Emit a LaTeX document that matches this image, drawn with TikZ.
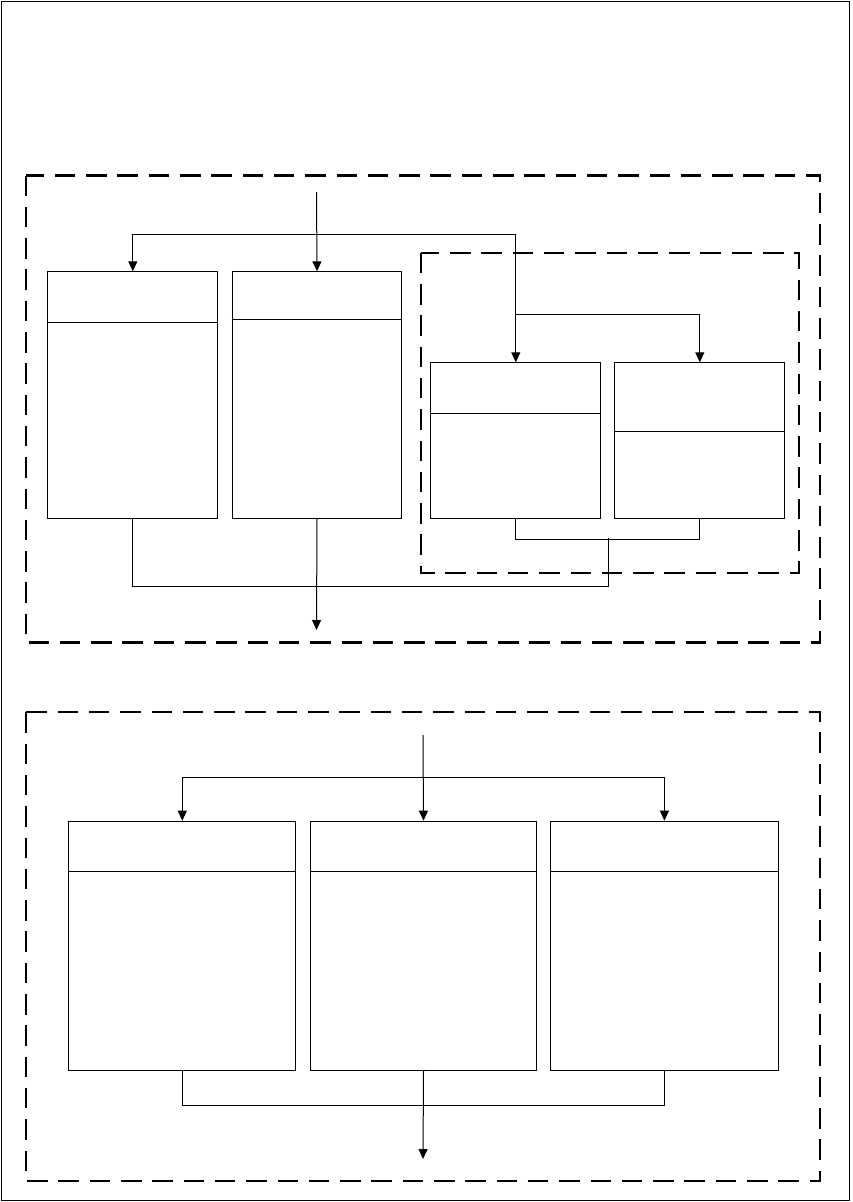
\documentclass[tikz,border=0pt]{standalone}
\usetikzlibrary{arrows.meta}
\begin{document}
\begin{tikzpicture}[x=1pt,y=-1pt,
  box/.style={draw,line width=1pt,rectangle,inner sep=0pt,anchor=north west},
  conn/.style={line width=1pt},
  arr/.style={line width=1pt,-{Triangle[width=9pt,length=10pt]}},
  grp/.style={draw,line width=2.2pt,dash pattern=on 20.5pt off 10.8pt},
  frame/.style={draw,line width=1pt}]
\useasboundingbox (0,0) rectangle (852,1202);
\draw[frame] (1,1) rectangle (849,1200.5);
% group frames
\draw[grp] (26,175.5) rectangle (820,642.5);
\draw[grp] (421,252.7) rectangle (798.7,572.7);
\draw[grp] (26,712.3) rectangle (820,1180.7);
% top boxes
\node[box,minimum width=170pt,minimum height=246.7pt] (A) at (47.3,271.3) {};
\node[box,minimum width=169.6pt,minimum height=246.7pt] (B) at (231.7,271.3) {};
\node[box,minimum width=170pt,minimum height=156pt] (C) at (430.3,362.3) {};
\node[box,minimum width=170pt,minimum height=156pt] (D) at (614.3,362.3) {};
\draw[conn] (A.north west) ++(0,51) -- ++(170,0);
\draw[conn] (B.north west) ++(0,48) -- ++(169.6,0);
\draw[conn] (C.north west) ++(0,51) -- ++(170,0);
\draw[conn] (D.north west) ++(0,69) -- ++(170,0);
% top connectors
\coordinate (in1) at (316.5,192);
\coordinate (j1) at (316.5,234.3);
\coordinate (jcd) at (515.3,314.3);
\draw[arr] (in1) -- (B.north);
\draw[arr] (j1) -| (A.north);
\draw[arr] (j1) -| (C.north);
\draw[arr] (jcd) -| (D.north);
\draw[conn] (C.south) -- ++(0,20) -| (D.south);
\coordinate (m2) at (608.7,538.3);
\coordinate (m3) at (608.7,586);
\draw[conn] (m2) -- (m3) -| (A.south);
\coordinate (out1) at (316.5,630);
\draw[arr] (B.south) -- (out1);
% bottom boxes
\node[box,minimum width=227pt,minimum height=249.3pt] (E) at (68.3,820.7) {};
\node[box,minimum width=226.6pt,minimum height=249.3pt] (F) at (309.7,820.7) {};
\node[box,minimum width=227.2pt,minimum height=249.3pt] (G) at (550.3,820.7) {};
\draw[conn] (E.north west) ++(0,50.6) -- ++(227,0);
\draw[conn] (F.north west) ++(0,50.6) -- ++(226.6,0);
\draw[conn] (G.north west) ++(0,50.6) -- ++(227.2,0);
% bottom connectors
\coordinate (in2) at (423,735);
\coordinate (j2) at (423,777.3);
\draw[arr] (in2) -- (F.north);
\draw[arr] (j2) -| (E.north);
\draw[arr] (j2) -| (G.north);
\draw[conn] (E.south) -- ++(0,34) -| (G.south);
\coordinate (out2) at (423,1159);
\draw[arr] (F.south) -- (out2);
\end{tikzpicture}
\end{document}
